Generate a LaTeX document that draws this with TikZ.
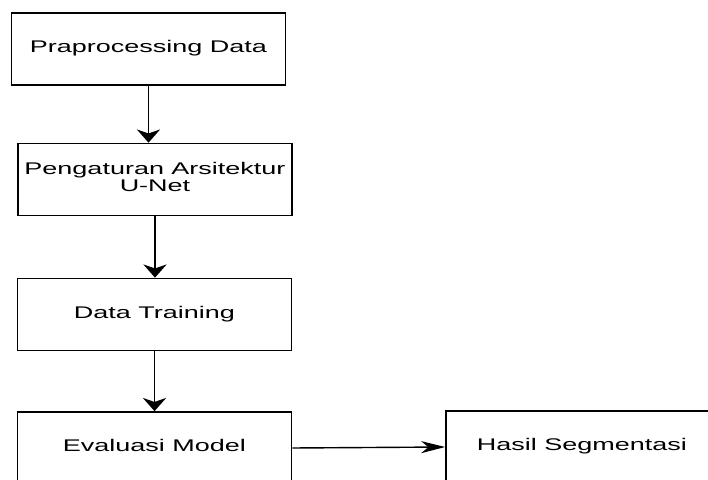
\documentclass[tikz,border=0pt]{standalone}
\usepackage{fontspec}
\setmainfont{Liberation Sans}
\usetikzlibrary{positioning,arrows.meta}
\newcommand{\widetext}[1]{\scalebox{1.6}[1]{\begin{tabular}{@{}c@{}}#1\end{tabular}}}
\tikzset{
    stagebox/.style={rectangle, draw, line width=1.2pt, minimum width=6.85cm, minimum height=1.8cm, inner sep=0pt, font=\fontsize{12}{12}\selectfont},
    downarrow/.style={line width=1.3pt, -{Stealth[length=0.33cm, width=0.58cm, inset=0.1cm]}},
    sidearrow/.style={line width=1pt, -{Stealth[length=0.6cm, width=0.3cm, inset=0.18cm]}}
}
\begin{document}
\begin{tikzpicture}
        \useasboundingbox (0,0) rectangle (17.7,11.975);
        \clip (0,0) rectangle (17.7,11.975);
        % Nodes
        \node (prep) at (3.7125,10.75) [stagebox] {\widetext{Praprocessing Data}};
        \node (arch) at (3.875,7.4875) [stagebox] {\widetext{Pengaturan Arsitektur\\U-Net}};
        \node (train) at (3.8625,4.1125) [stagebox] {\widetext{Data Training}};
        \node (eval) at (3.8625,0.775) [stagebox] {\widetext{Evaluasi Model}};
        \node (seg) at (14.55,0.8) [stagebox, minimum width=6.8cm] {\widetext{Hasil Segmentasi}};
        
        % Edges
        \foreach \a/\b in {prep/arch, arch/train, train/eval} {
            \draw[downarrow] (\a.south) -- (\a.south |- \b.north);
        }
        
        \draw[sidearrow] (eval.east) -- (seg.west);
    \end{tikzpicture}
\end{document}
